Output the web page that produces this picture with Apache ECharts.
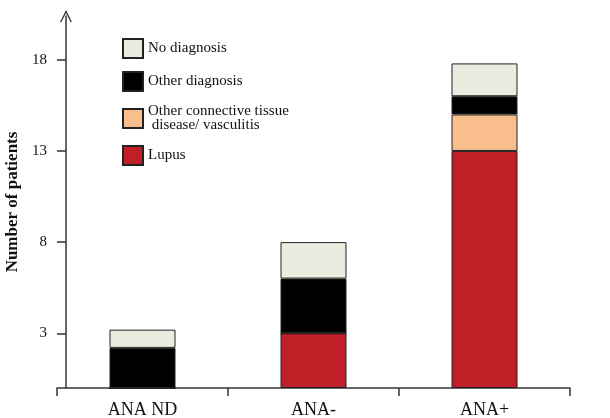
<!DOCTYPE html>
<html>
<head>
<meta charset="utf-8">
<title>ANA</title>
<style>
    html, body { margin: 0; padding: 0; background: #fff; }
    #chart { width: 610px; height: 418px; }
</style>
</head>
<body>
<div id="chart"></div>
<script src="https://cdn.jsdelivr.net/npm/echarts@6/dist/echarts.min.js"></script>
<script>
    // data
    let categories = ['ANA ND', 'ANA-', 'ANA+'];
    let lupus = [0, 3, 13];
    let otherCtd = [0, 0, 2];
    let otherDiag = [2.2, 3, 1];
    let noDiag = [1, 2, 1.8];
    let yTicks = [3, 8, 13, 18];

    let font = '"Liberation Serif", "DejaVu Serif", serif';
    let chart = echarts.init(document.getElementById('chart'));

    function bar(name, data, color) {
        return {
            name: name,
            type: 'bar',
            stack: 'total',
            data: data,
            barWidth: 66,
            itemStyle: { color: color, borderColor: '#222', borderWidth: 1 }
        };
    }

    let option = {
        backgroundColor: '#fff',
        textStyle: { fontFamily: font },
        animation: false,
        grid: { left: 57, right: 40, top: 16, bottom: 30, outerBoundsMode: 'none', containLabel: false },
        legend: {
            orient: 'vertical',
            left: 117,
            top: 33,
            icon: 'rect',
            itemWidth: 20,
            itemHeight: 19,
            itemGap: 12,
            data: ['No diagnosis', 'Other diagnosis', 'Other connective tissue\n disease/ vasculitis', 'Lupus'],
            textStyle: { fontFamily: font, fontSize: 15, color: '#111', lineHeight: 14 }
        },
        xAxis: {
            type: 'category',
            data: categories,
            axisLine: { lineStyle: { color: '#333', width: 1.5 } },
            axisTick: { show: true, length: 8, lineStyle: { color: '#333', width: 1.5 } },
            axisLabel: { fontFamily: font, fontSize: 18, color: '#111', margin: 13 }
        },
        yAxis: {
            type: 'value',
            min: 0,
            max: 20.4,
            offset: -9,
            name: 'Number of patients',
            nameLocation: 'middle',
            nameGap: 44,
            nameTextStyle: { fontFamily: font, fontSize: 17, fontWeight: 'bold', color: '#111' },
            splitLine: { show: false },
            axisLine: {
                show: true,
                symbol: ['none', 'path://M0 10 L5 0 L10 10 L8.8 10 L5 2.4 L1.2 10 Z'],
                symbolSize: [12, 12],
                lineStyle: { color: '#333', width: 1.5 }
            },
            axisTick: { show: true, length: 9, customValues: yTicks, lineStyle: { color: '#333', width: 1.5 } },
            axisLabel: { customValues: yTicks, fontFamily: font, fontSize: 15, color: '#111', margin: 19 }
        },
        series: [
            bar('Lupus', lupus, '#c01f27'),
            bar('Other connective tissue\n disease/ vasculitis', otherCtd, '#f8bf8d'),
            bar('Other diagnosis', otherDiag, '#000000'),
            bar('No diagnosis', noDiag, '#ecebe0')
        ]
    };
    chart.setOption(option);
</script>
</body>
</html>
